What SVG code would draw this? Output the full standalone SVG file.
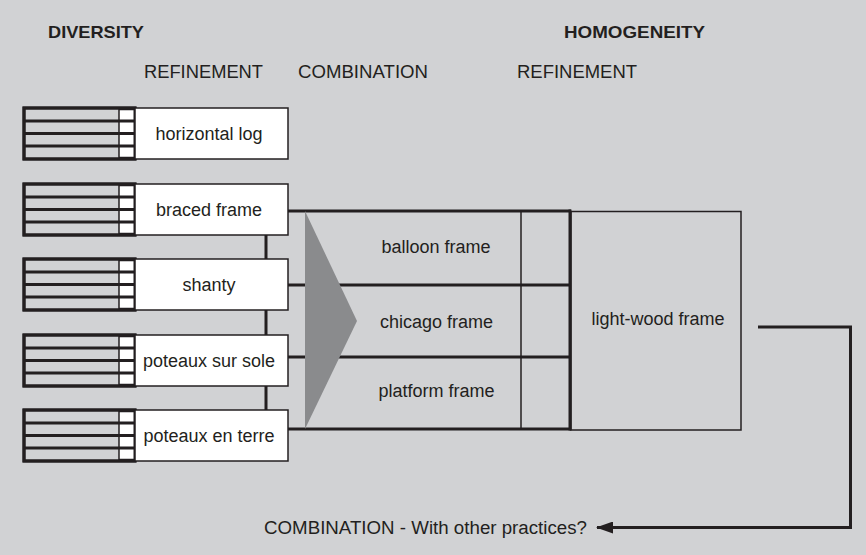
<svg xmlns="http://www.w3.org/2000/svg" width="866" height="555" viewBox="0 0 866 555">
<defs>
<style>
.t{font-family:"Liberation Sans",Arial,Helvetica,sans-serif;fill:#231f20;font-size:18px}
.b{font-weight:bold;font-size:17px}
.m{text-anchor:middle}
.thick{stroke:#231f20;stroke-width:3;fill:none}
.thin{stroke:#231f20;stroke-width:1.5;fill:none}
.hatch{fill:#d1d2d4;stroke:#231f20;stroke-width:3}
.cell{fill:#ffffff;stroke:#231f20;stroke-width:1.5}
.wbox{fill:#ffffff;stroke:#231f20;stroke-width:1.5}
</style>
<g id="hatchbox">
<rect x="24" y="0" width="111" height="51" class="hatch"/>
<rect x="119" y="1.5" width="16" height="48" class="cell"/>
<line x1="24" y1="13" x2="135" y2="13" class="thick"/>
<line x1="24" y1="25.5" x2="135" y2="25.5" class="thick"/>
<line x1="24" y1="38" x2="135" y2="38" class="thick"/>
<rect x="24" y="0" width="111" height="51" class="thick"/>
</g>
<marker id="arr" viewBox="0 0 17 12" refX="16" refY="6" markerWidth="17" markerHeight="12" markerUnits="userSpaceOnUse" orient="auto">
<path d="M0,0 L17,6 L0,12 Z" fill="#231f20"/>
</marker>
</defs>
<rect x="0" y="0" width="866" height="555" fill="#d1d2d4"/>

<g id="headers">
<text class="t b" x="48" y="38" textLength="96" lengthAdjust="spacingAndGlyphs">DIVERSITY</text>
<text class="t b" x="564" y="38" textLength="141" lengthAdjust="spacingAndGlyphs">HOMOGENEITY</text>
<text class="t" x="144" y="78" textLength="119" lengthAdjust="spacingAndGlyphs">REFINEMENT</text>
<text class="t" x="298" y="78" textLength="130" lengthAdjust="spacingAndGlyphs">COMBINATION</text>
<text class="t" x="517" y="78" textLength="120" lengthAdjust="spacingAndGlyphs">REFINEMENT</text>
</g>

<g id="connectors">
<line x1="266" y1="235" x2="266" y2="410" class="thick"/>
<line x1="288" y1="211" x2="305" y2="211" class="thick"/>
<line x1="288" y1="285" x2="305" y2="285" class="thick"/>
<line x1="288" y1="357" x2="305" y2="357" class="thick"/>
<line x1="288" y1="429" x2="305" y2="429" class="thick"/>
<polyline points="758,327 850.5,327 850.5,527.5 597,527.5" class="thick" marker-end="url(#arr)"/>
</g>

<g id="node-horizontal-log">
<use href="#hatchbox" y="108"/>
<rect x="135" y="108" width="153" height="51" class="wbox"/>
<text class="t m" x="209" y="139.5">horizontal log</text>
</g>
<g id="node-braced-frame">
<use href="#hatchbox" y="184"/>
<rect x="135" y="184" width="153" height="51" class="wbox"/>
<text class="t m" x="209" y="215.5">braced frame</text>
</g>
<g id="node-shanty">
<use href="#hatchbox" y="259"/>
<rect x="135" y="259" width="153" height="51" class="wbox"/>
<text class="t m" x="209" y="290.5">shanty</text>
</g>
<g id="node-poteaux-sur-sole">
<use href="#hatchbox" y="335"/>
<rect x="135" y="335" width="153" height="51" class="wbox"/>
<text class="t m" x="209" y="366.5">poteaux sur sole</text>
</g>
<g id="node-poteaux-en-terre">
<use href="#hatchbox" y="410"/>
<rect x="135" y="410" width="153" height="51" class="wbox"/>
<text class="t m" x="209" y="441.5">poteaux en terre</text>
</g>

<g id="node-combination">
<line x1="305" y1="211" x2="571" y2="211" class="thick"/>
<line x1="305" y1="285" x2="571" y2="285" class="thick"/>
<line x1="305" y1="357" x2="571" y2="357" class="thick"/>
<line x1="305" y1="429" x2="571" y2="429" class="thick"/>
<line x1="521" y1="211" x2="521" y2="429" class="thin"/>
<line x1="570" y1="209.5" x2="570" y2="430.5" class="thick"/>
<polygon points="305,211 357,321 305,429" fill="#8a8b8d"/>
<text class="t m" x="436" y="253">balloon frame</text>
<text class="t m" x="436.5" y="328">chicago frame</text>
<text class="t m" x="436.5" y="397">platform frame</text>
</g>

<g id="node-light-wood-frame">
<rect x="571" y="211.5" width="170" height="218.5" class="thin"/>
<text class="t m" x="658" y="325">light-wood frame</text>
</g>

<g id="node-combination-other">
<text class="t" x="264" y="534" textLength="323" lengthAdjust="spacingAndGlyphs">COMBINATION - With other practices?</text>
</g>
</svg>
